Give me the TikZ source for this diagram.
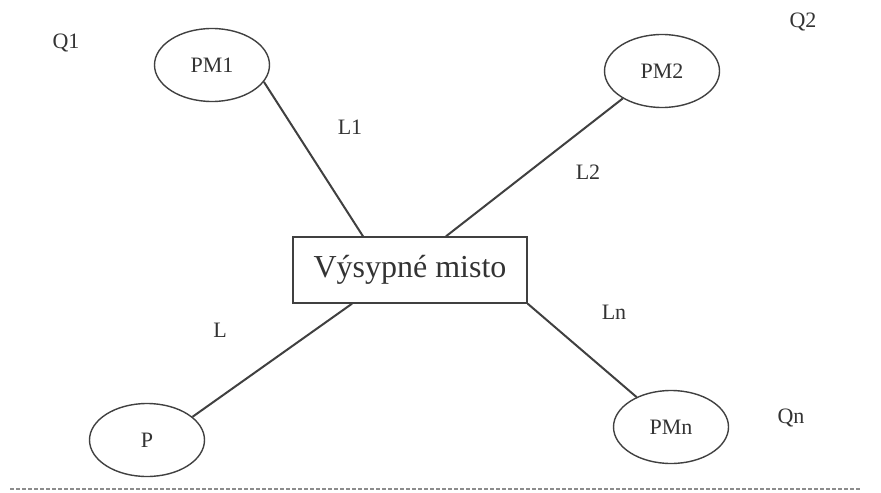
\documentclass[tikz,border=0pt]{standalone}
\usepackage{fontspec}
\setmainfont{Liberation Serif}
\usetikzlibrary{shapes.geometric}
\begin{document}
\begin{tikzpicture}[x=0.5pt,y=-0.5pt,
        font=\fontsize{11}{13}\selectfont,text=black!80,
        site/.style={ellipse,draw=black!75,line width=0.7pt,minimum width=57.5pt,minimum height=36.5pt,inner sep=0pt},
        dump/.style={rectangle,draw=black!75,line width=0.7pt,minimum width=117pt,minimum height=33pt,inner sep=0pt,font=\fontsize{16}{19}\selectfont},
        road/.style={draw=black!75,line width=1pt}]
        \useasboundingbox (0,0) rectangle (881,492);
        \node[dump] (V) at (410,270) {Výsypné misto};
        \node[site] (PM1) at (212,65) {PM1};
        \node[site] (PM2) at (662,71) {PM2};
        \node[site] (P) at (147,440) {P};
        \node[site] (PMn) at (671,427) {PMn};
        \node (Q1) at (66,43) {Q1};
        \node (Q2) at (803,22) {Q2};
        \node (Qn) at (791,418) {Qn};
        \node (L1) at (350,127) {L1};
        \node (L2) at (588,172) {L2};
        \node (L) at (220,330) {L};
        \node (Ln) at (614,312) {Ln};
        \draw[road] (PM1.-18)--([xshift=-23.5pt]V.north);
        \draw[road] (PM2.-145)--([xshift=18pt]V.north);
        \draw[road] (P.27)--([xshift=-29pt]V.south);
        \draw[road] (PMn.139)--(V.south east);
        \coordinate (s1) at (10,489);
        \coordinate (s2) at (860,489);
        \draw[black!45,line width=1pt,dash pattern=on 2pt off 1pt] (s1)--(s2);
    \end{tikzpicture}
\end{document}
